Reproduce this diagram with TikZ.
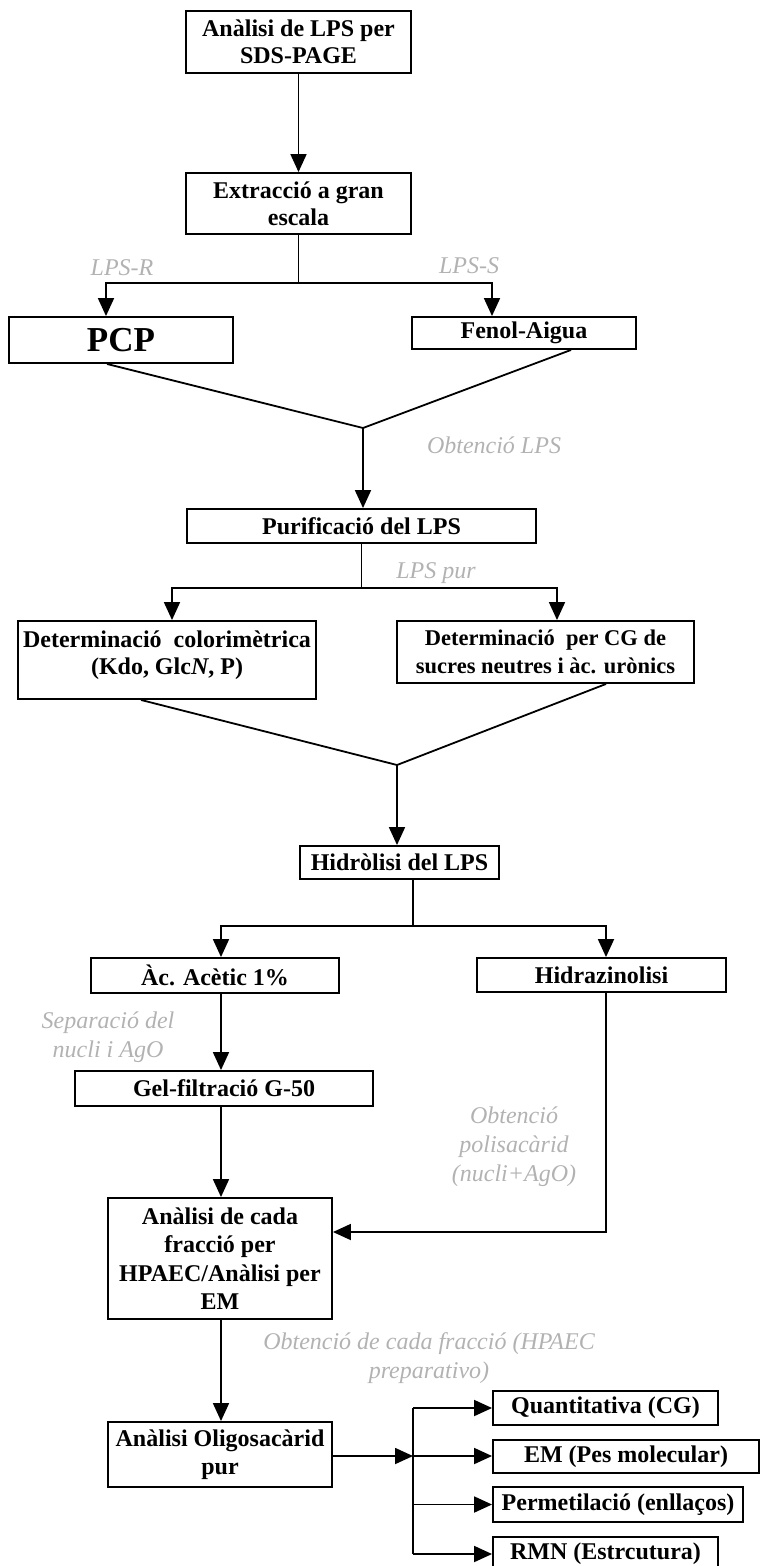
\documentclass[tikz,border=0pt]{standalone}
\usepackage{fontspec}
\setmainfont{Liberation Serif}
\usetikzlibrary{arrows.meta}
\begin{document}
\begin{tikzpicture}[x=1pt,y=-1pt,
  box/.style={draw,line width=1.9pt,inner sep=0pt,align=center,
    font=\fontsize{24}{27}\selectfont\bfseries},
  lnk/.style={line width=1.8pt},
  arr/.style={lnk,-{Triangle[width=16pt,length=18pt]}},
  note/.style={text=black!30,inner sep=0pt,align=center,
    font=\fontsize{24}{29}\selectfont\itshape}]
\useasboundingbox (0,0) rectangle (760,1566);

% process boxes
\node[box,minimum width=225pt,minimum height=62pt] (b1) at (298.5,42) {Anàlisi de LPS per\\SDS-PAGE};
\node[box,minimum width=225pt,minimum height=61pt] (b2) at (298.5,203.5) {Extracció a gran\\escala};
\node[box,minimum width=224pt,minimum height=46pt,font=\fontsize{35}{40}\selectfont\bfseries] (pcp) at (121,340) {PCP};
\node[box,minimum width=224pt,minimum height=32pt] (fenol) at (524,333) {Fenol-Aigua};
\node[box,minimum width=349pt,minimum height=34pt] (puri) at (361.5,526) {Purificació del LPS};
\node[box,minimum width=298pt,minimum height=78pt] (colo) at (167,660) {Determinació\ \ colorimètrica\\(Kdo, Glc\textit{N}, P)\rule[-14pt]{0pt}{14pt}};
\node[box,minimum width=297pt,minimum height=62pt,font=\fontsize{22.5}{28}\selectfont\bfseries] (cg) at (545.5,652) {Determinació\ \ per CG de\\sucres neutres i àc. urònics};
\node[box,minimum width=199pt,minimum height=33pt] (hidr) at (399.5,862.5) {Hidròlisi del LPS};
\node[box,minimum width=248pt,minimum height=35pt] (acet) at (215,975.5) {Àc. Acètic 1\%};
\node[box,minimum width=249pt,minimum height=34pt] (hidraz) at (601.5,975) {Hidrazinolisi};
\node[box,minimum width=298pt,minimum height=35pt] (gel) at (224,1088.5) {Gel-filtració G-50};
\node[box,minimum width=224pt,minimum height=121pt,font=\fontsize{24}{28.5}\selectfont\bfseries] (anal) at (220,1258.5) {Anàlisi de cada\\fracció per\\HPAEC/Anàlisi per\\EM};
\node[box,minimum width=224pt,minimum height=65pt,font=\fontsize{24}{28.5}\selectfont\bfseries] (oligo) at (220,1454.5) {Anàlisi Oligosacàrid\\pur};
\node[box,minimum width=225pt,minimum height=34pt] (quant) at (605.5,1408) {Quantitativa (CG)};
\node[box,minimum width=266pt,minimum height=33pt] (em) at (626,1456.5) {EM (Pes molecular)};
\node[box,minimum width=250pt,minimum height=35pt] (perm) at (618,1504.5) {Permetilació (enllaços)};
\node[box,minimum width=225pt,minimum height=34pt] (rmn) at (605.5,1554) {RMN (Estrcutura)};

% step labels
\node[note] (lr) at (122,268) {LPS-R};
\node[note] (ls) at (469,266) {LPS-S};
\node[note] (ol) at (494,445) {Obtenció LPS};
\node[note] (lp) at (436,573) {LPS pur};
\node[note] (sep) at (108,1037) {Separació del\\nucli i AgO};
\node[note] (pol) at (514,1147) {Obtenció\\polisacàrid\\(nucli+AgO)};
\node[note] (frac) at (429,1358) {Obtenció de cada fracció (HPAEC\\preparativo)};

% junction points
\coordinate (j1) at (298.5,283);
\coordinate (jl) at (106,283);
\coordinate (jr) at (492,283);
\coordinate (m1) at (363,428);
\coordinate (j2) at (361.5,588);
\coordinate (j2l) at (172,588);
\coordinate (j2r) at (557,588);
\coordinate (m2) at (397,765);
\coordinate (j3) at (413,926);
\coordinate (j3l) at (221,926);
\coordinate (j3r) at (606,926);
\coordinate (hk) at (606,1232);
\coordinate (fork) at (413,1456);
\coordinate (f1) at (413,1408);
\coordinate (f4) at (413,1554);

% connectors
\draw[arr] (b1.south) -- (b2.north);
\draw[lnk] (b2.south) -- (j1);
\draw[arr] (j1) -- (jl) -- (jl |- pcp.north);
\draw[arr] (j1) -- (jr) -- (jr |- fenol.north);

\draw[lnk] ([xshift=-14pt]pcp.south) -- (m1) -- ([xshift=47pt]fenol.south);
\draw[arr] (m1) -- (m1 |- puri.north);

\draw[lnk] (puri.south) -- (j2);
\draw[arr] (j2) -- (j2l) -- (j2l |- colo.north);
\draw[arr] (j2) -- (j2r) -- (j2r |- cg.north);

\draw[lnk] ([xshift=-26pt]colo.south) -- (m2) -- ([xshift=60.5pt]cg.south);
\draw[arr] (m2) -- (m2 |- hidr.north);

\draw[lnk] (hidr.south -| j3) -- (j3);
\draw[arr] (j3) -- (j3l) -- (j3l |- acet.north);
\draw[arr] (j3) -- (j3r) -- (j3r |- hidraz.north);
\draw[arr] (acet.south -| j3l) -- (gel.north -| j3l);
\draw[arr] (gel.south -| j3l) -- (anal.north -| j3l);
\draw[arr] (hidraz.south -| hk) -- (hk) -- (anal.east |- hk);
\draw[arr] (anal.south -| j3l) -- (oligo.north -| j3l);

\draw[arr] (oligo.east |- fork) -- (fork);
\draw[lnk] (f1) -- (f4);
\draw[arr] (f1) -- (quant.west);
\draw[arr] (fork) -- (em.west |- fork);
\draw[arr] (fork |- perm.west) -- (perm.west);
\draw[arr] (f4) -- (rmn.west);
\end{tikzpicture}
\end{document}
